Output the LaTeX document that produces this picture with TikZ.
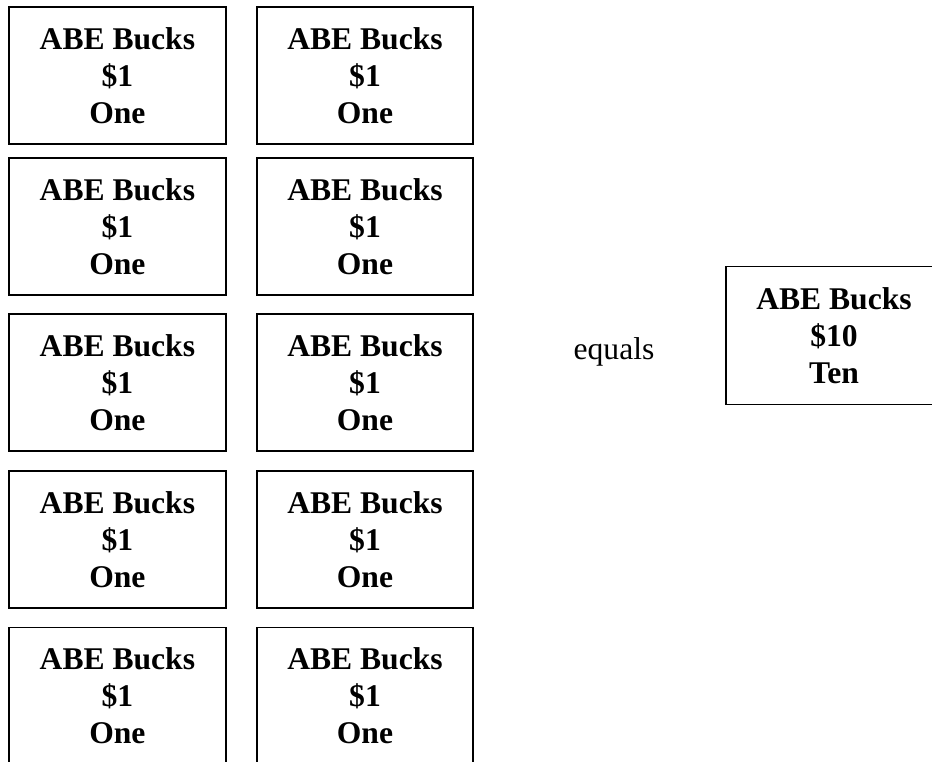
\documentclass[tikz,border=0pt]{standalone}
\usepackage{fontspec}
\setmainfont{Liberation Serif}
\begin{document}
\begin{tikzpicture}[x=0.75pt,y=-0.75pt,
  buck/.style={draw=black,line width=1.3pt,rectangle,inner sep=0pt,
    minimum width=162.5pt,minimum height=102.75pt,align=center,
    font=\fontsize{23.7}{27.8}\selectfont\bfseries},
  plain/.style={font=\fontsize{23.7}{27.8}\selectfont,inner sep=0pt}]
\useasboundingbox (0,0) rectangle (932,762);
\clip (0,0) rectangle (932,762);
\node[buck] (a1) at (117.4,75.5) {ABE Bucks\\\$1\\One};
\node[buck] (b1) at (365,75.5) {ABE Bucks\\\$1\\One};
\node[buck] (a2) at (117.4,226.5) {ABE Bucks\\\$1\\One};
\node[buck] (b2) at (365,226.5) {ABE Bucks\\\$1\\One};
\node[buck] (a3) at (117.4,382.5) {ABE Bucks\\\$1\\One};
\node[buck] (b3) at (365,382.5) {ABE Bucks\\\$1\\One};
\node[buck] (a4) at (117.4,539.5) {ABE Bucks\\\$1\\One};
\node[buck] (b4) at (365,539.5) {ABE Bucks\\\$1\\One};
\node[buck] (a5) at (117.4,696) {ABE Bucks\\\$1\\One};
\node[buck] (b5) at (365,696) {ABE Bucks\\\$1\\One};
\node[plain,anchor=base] (eq) at (614,360) {equals};
\node[buck,minimum height=103.5pt] (ten) at (834,335.5) {ABE Bucks\\\$10\\Ten};
\end{tikzpicture}
\end{document}
